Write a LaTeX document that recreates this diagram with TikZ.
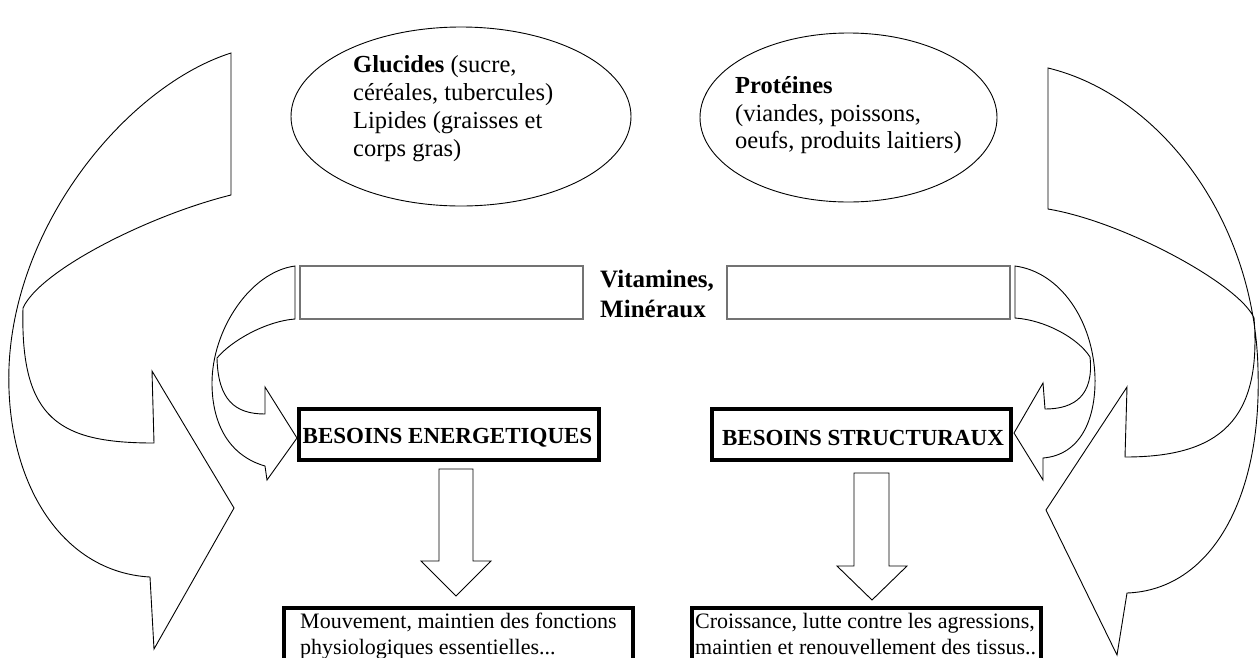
\documentclass[tikz,border=0pt]{standalone}
\usepackage{fontspec}
\setmainfont{Liberation Serif}
\usetikzlibrary{shapes.geometric}
\tikzset{
  blockarrow/.style={draw=black, line width=0.9pt, fill=white, line join=miter},
  foodellipse/.style={ellipse, draw=black, line width=0.9pt, inner sep=0pt},
  graybar/.style={draw=black!55, line width=1.4pt},
  needbox/.style={draw=black, line width=4pt, inner sep=0pt},
  etxt/.style={anchor=base west, inner sep=0pt, font=\fontsize{24.5}{28}\selectfont},
  btxt/.style={anchor=base west, inner sep=0pt, font=\fontsize{22}{27}\selectfont},
  vtxt/.style={anchor=base west, inner sep=0pt, font=\fontsize{25}{30}\selectfont\bfseries},
  ntxt/.style={anchor=base, inner sep=0pt, font=\fontsize{23}{27}\selectfont\bfseries},
}
\begin{document}
\begin{tikzpicture}[x=1pt,y=-1pt]
\useasboundingbox (0,0) rectangle (1260,657);
\clip (0,0) rectangle (1260,657);
\fill[white] (0,0) rectangle (1260,657);

% food ellipses
\node[foodellipse, minimum width=340pt, minimum height=179pt] (glu) at (461,116.5) {};
\node[foodellipse, minimum width=297pt, minimum height=169pt] (pro) at (848.5,117.5) {};
\node[etxt] (g1) at (353,72) {\textbf{Glucides} (sucre,};
\node[etxt] (g2) at (353,100) {céréales, tubercules)};
\node[etxt] (g3) at (353,128) {Lipides (graisses et};
\node[etxt] (g4) at (353,156) {corps gras)};
\node[etxt] (p1) at (735,93) {\textbf{Protéines}};
\node[etxt] (p2) at (735,121) {(viandes, poissons,};
\node[etxt] (p3) at (735,148.5) {oeufs, produits laitiers)};

% big left arrow
\draw[blockarrow] (231,53) -- (231,195) .. controls (150,215) and (40,270) .. (23,308)
  .. controls (20,420) and (60,443) .. (154,443) -- (152,371) -- (234,508) -- (154,649)
  -- (150,577) .. controls (60,572) and (5,480) .. (9,367)
  .. controls (15,220) and (130,85) .. (231,53) -- cycle;
% big right arrow
\draw[blockarrow] (1048,68) -- (1048,209) .. controls (1125,222) and (1240,285) .. (1254,318)
  .. controls (1262,420) and (1220,457) .. (1125,457) -- (1127,387) -- (1046,510) -- (1117,655)
  -- (1127,593) .. controls (1210,590) and (1262,500) .. (1258,370)
  .. controls (1255,220) and (1160,95) .. (1048,68) -- cycle;

% gray bars
\node[graybar, minimum width=283pt, minimum height=53pt, inner sep=0pt] (barL) at (441.5,292.5) {};
\node[graybar, minimum width=283pt, minimum height=53pt, inner sep=0pt] (barR) at (868.5,292.5) {};
\node[vtxt] (v1) at (600,287) {Vitamines,};
\node[vtxt] (v2) at (600,317) {Minéraux};

% small arrows
\draw[blockarrow] (295,266) -- (295,319) .. controls (267,321) and (232,340) .. (217,358)
  .. controls (218,400) and (235,414) .. (265,414) -- (265,387) -- (297,438) -- (267,480)
  -- (265,466) .. controls (230,456) and (212,425) .. (212,383)
  .. controls (212,330) and (250,272) .. (295,266) -- cycle;
\draw[blockarrow] (1015,266) -- (1015,318) .. controls (1045,320) and (1078,338) .. (1090,357)
  .. controls (1094,395) and (1075,409) .. (1045,409) -- (1043,383) -- (1014,433) -- (1043,480)
  -- (1043,458) .. controls (1080,455) and (1096,420) .. (1095,377)
  .. controls (1093,320) and (1060,272) .. (1015,266) -- cycle;

% need boxes
\node[needbox, minimum width=300pt, minimum height=51pt] (ener) at (449,434.5) {};
\node[needbox, minimum width=299pt, minimum height=51pt] (struc) at (861.5,434.5) {};
\node[ntxt] (enerT) at (447.5,443) {BESOINS ENERGETIQUES};
\node[ntxt] (strucT) at (863,445) {BESOINS STRUCTURAUX};

% down arrows
\draw[blockarrow] (439,469) -- (473,469) -- (473,561) -- (491,561) -- (456,596) -- (421,561) -- (439,561) -- cycle;
\draw[blockarrow] (854,473) -- (889,473) -- (889,566) -- (907,566) -- (872,600) -- (837,566) -- (854,566) -- cycle;

% result boxes (open at bottom edge)
\draw[draw=black, line width=4pt] (284,700) -- (284,608) -- (633,608) -- (633,700);
\draw[draw=black, line width=4pt] (692,700) -- (692,608) -- (1041,608) -- (1041,700);
\node[btxt] (m1) at (300,628) {Mouvement, maintien des fonctions};
\node[btxt] (m2) at (300,654) {physiologiques essentielles...};
\node[btxt] (c1) at (695,628) {Croissance, lutte contre les agressions,};
\node[btxt] (c2) at (695,654) {maintien et renouvellement des tissus..};
\end{tikzpicture}
\end{document}
